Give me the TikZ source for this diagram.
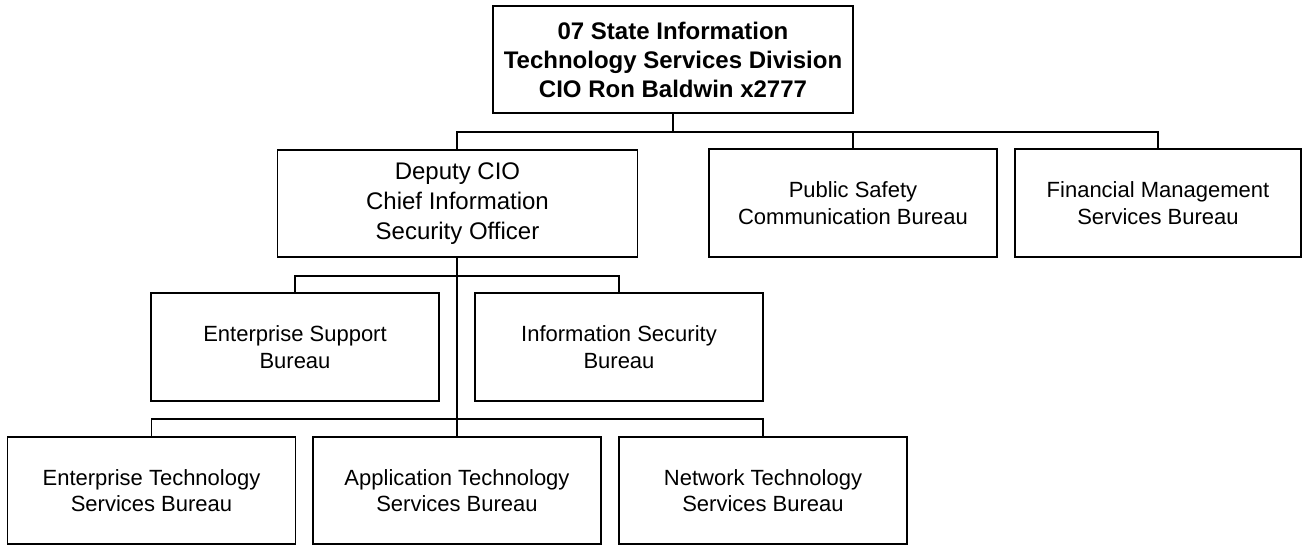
\documentclass[tikz,border=0pt]{standalone}
\usepackage{fontspec}
\setmainfont{Liberation Sans}
\begin{document}
\begin{tikzpicture}[x=1pt,y=-1pt,
  box/.style={draw=black,line width=1.1pt,fill=white,inner sep=0pt,align=center,
    minimum width=288pt,minimum height=108pt,font=\fontsize{22}{26.5}\selectfont},
  wide/.style={box,minimum width=360pt,minimum height=107pt},
  link/.style={draw=black,line width=1.1pt}]
\useasboundingbox (0,0) rectangle (1302,546);
\node[wide,font=\fontsize{24}{29}\selectfont\bfseries] (top) at (673,59.5) {07 State Information\\Technology Services Division\\CIO Ron Baldwin x2777};
\node[wide,font=\fontsize{24}{30}\selectfont] (deputy) at (457.5,203.5) {Deputy CIO\\Chief Information\\Security Officer};
\node[box] (ps) at (853,203) {Public Safety\\Communication Bureau};
\node[box,minimum width=286pt] (fm) at (1158,203) {Financial Management\\Services Bureau};
\node[box] (es) at (295,347) {Enterprise Support\\Bureau};
\node[box] (is) at (619,347) {Information Security\\Bureau};
\node[box,minimum height=107pt] (ets) at (151.5,490.5) {Enterprise Technology\\Services Bureau};
\node[box,minimum height=107pt] (ats) at (457,490.5) {Application Technology\\Services Bureau};
\node[box,minimum height=107pt] (nts) at (763,490.5) {Network Technology\\Services Bureau};
\coordinate (b1) at (673,132);
\coordinate (b2) at (457,276);
\coordinate (b3) at (457,419);
\draw[link] (top.south) -- (b1);
\draw[link] (deputy.north -| b2) |- (b1) -| (fm.north);
\draw[link] (b1) -| (ps.north);
\draw[link] (deputy.south -| b2) -- (ats.north);
\draw[link] (es.north) |- (b2) -| (is.north);
\draw[link] (ets.north) |- (b3) -| (nts.north);
\end{tikzpicture}
\end{document}
